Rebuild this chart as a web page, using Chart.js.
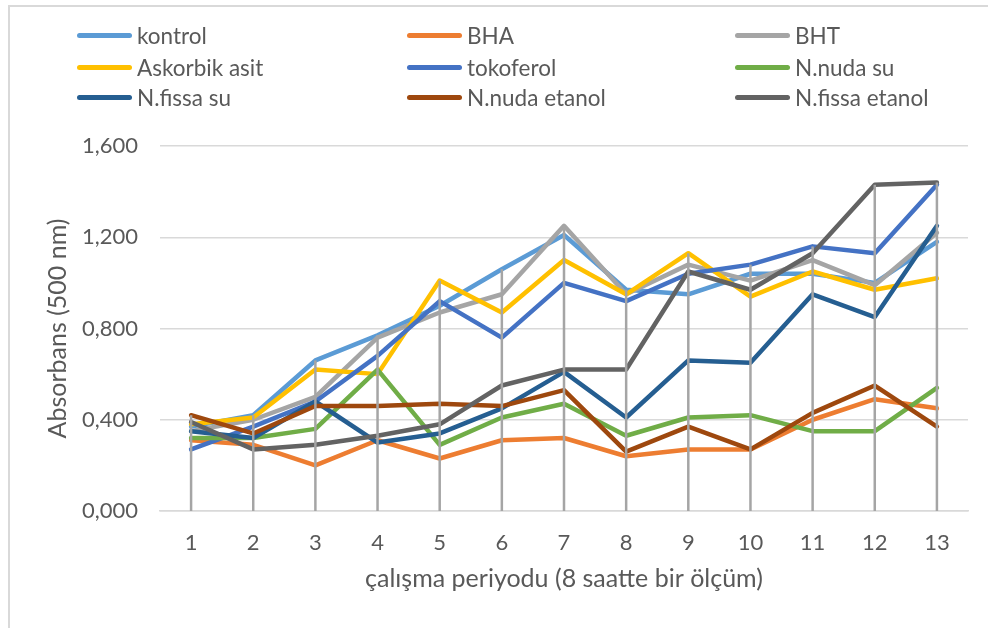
<!DOCTYPE html>
<html>
<head>
<meta charset="utf-8">
<script src="https://cdn.jsdelivr.net/npm/chart.js@4/dist/chart.umd.min.js"></script>
<style>
  html, body { margin: 0; padding: 0; background: #fff; }
  body { width: 988px; height: 628px; position: relative; overflow: hidden; font-family: Lato, sans-serif; }
  #frame { position: absolute; left: 8px; top: 5px; right: -10px; bottom: -10px; border-left: 2px solid #D9D9D9; border-top: 2px solid #D9D9D9; }
  #chart { position: absolute; left: 0; top: 0; }
  #legend { position: absolute; left: 0; top: 0; }
  .item { position: absolute; display: flex; align-items: center; height: 30px; color: #595959; font-size: 22.5px; white-space: nowrap; }
  .swatch { width: 55px; height: 5px; border-radius: 3px; margin-right: 5px; }
</style>
</head>
<body>
<div id="frame"></div>
<canvas id="chart" width="988" height="628"></canvas>
<div id="legend"></div>
<script>
const periods = ['1', '2', '3', '4', '5', '6', '7', '8', '9', '10', '11', '12', '13'];
const yTicks = [0, 0.4, 0.8, 1.2, 1.6];

const kontrol     = [0.37, 0.42, 0.66, 0.77, 0.90, 1.06, 1.21, 0.97, 0.95, 1.04, 1.04, 1.00, 1.18];
const bha         = [0.31, 0.29, 0.20, 0.31, 0.23, 0.31, 0.32, 0.24, 0.27, 0.27, 0.40, 0.49, 0.45];
const bht         = [0.35, 0.40, 0.50, 0.76, 0.87, 0.95, 1.25, 0.95, 1.08, 1.01, 1.10, 0.99, 1.22];
const askorbik    = [0.38, 0.41, 0.62, 0.60, 1.01, 0.87, 1.10, 0.95, 1.13, 0.94, 1.05, 0.97, 1.02];
const tokoferol   = [0.27, 0.37, 0.48, 0.68, 0.92, 0.76, 1.00, 0.92, 1.04, 1.08, 1.16, 1.13, 1.43];
const nudaSu      = [0.32, 0.32, 0.36, 0.62, 0.29, 0.41, 0.47, 0.33, 0.41, 0.42, 0.35, 0.35, 0.54];
const fissaSu     = [0.35, 0.32, 0.48, 0.30, 0.34, 0.45, 0.61, 0.41, 0.66, 0.65, 0.95, 0.85, 1.25];
const nudaEtanol  = [0.42, 0.34, 0.46, 0.46, 0.47, 0.46, 0.53, 0.26, 0.37, 0.27, 0.43, 0.55, 0.37];
const fissaEtanol = [0.39, 0.27, 0.29, 0.33, 0.38, 0.55, 0.62, 0.62, 1.05, 0.97, 1.13, 1.43, 1.44];

const seriesNames = ['kontrol', 'BHA', 'BHT', 'Askorbik asit', 'tokoferol', 'N.nuda su', 'N.fissa su', 'N.nuda etanol', 'N.fissa etanol'];
const seriesData = [kontrol, bha, bht, askorbik, tokoferol, nudaSu, fissaSu, nudaEtanol, fissaEtanol];
const seriesColors = ['#5B9BD5', '#ED7D31', '#A5A5A5', '#FFC000', '#4472C4', '#70AD47', '#255E91', '#9E480E', '#636363'];

const textColor = '#595959';
const gridColor = '#D9D9D9';

// vertical drop lines from the highest point of each period down to the axis
const dropLines = {
  id: 'dropLines',
  afterDatasetsDraw(chart) {
    const { ctx, scales: { x, y } } = chart;
    const sets = chart.data.datasets;
    ctx.save();
    ctx.strokeStyle = '#A5A5A5';
    ctx.lineWidth = 2.5;
    chart.data.labels.forEach((_, i) => {
      const top = Math.max(...sets.map(d => d.data[i]));
      const px = x.getPixelForValue(i);
      ctx.beginPath();
      ctx.moveTo(px, y.getPixelForValue(top));
      ctx.lineTo(px, y.getPixelForValue(0));
      ctx.stroke();
    });
    ctx.restore();
  }
};

const datasets = seriesNames.map((name, i) => ({
  label: name,
  data: seriesData[i],
  borderColor: seriesColors[i],
  backgroundColor: seriesColors[i],
  borderWidth: 4.5,
  borderJoinStyle: 'round',
  borderCapStyle: 'round',
  pointRadius: 0,
  tension: 0,
  order: seriesNames.length - i   // later series on top, like the original
}));

new Chart(document.getElementById('chart').getContext('2d'), {
  type: 'line',
  data: { labels: periods, datasets },
  options: {
    responsive: false,
    animation: false,
    layout: { padding: { left: 39, top: 146, right: 20, bottom: 30 } },
    plugins: {
      legend: { display: false },
      tooltip: { enabled: false }
    },
    scales: {
      x: {
        offset: true,
        grid: { display: false, drawTicks: false },
        border: { color: gridColor, width: 1.5 },
        ticks: { color: textColor, font: { family: 'Lato', size: 22 }, padding: 19, maxRotation: 0 },
        title: { display: true, text: 'çalışma periyodu (8 saatte bir ölçüm)', color: textColor, font: { family: 'Lato', size: 25 }, padding: { top: 4, bottom: 4 } },
        afterFit: (s) => { s.height = 87; }
      },
      y: {
        min: 0,
        max: 1.6,
        afterBuildTicks: (s) => { s.ticks = yTicks.map(v => ({ value: v })); },
        grid: { color: gridColor, lineWidth: 1.5, drawTicks: false },
        border: { display: false },
        ticks: { color: textColor, font: { family: 'Lato', size: 22 }, padding: 22, callback: (v) => Number(v).toFixed(3).replace('.', ',') },
        title: { display: true, text: 'Absorbans (500 nm)', color: textColor, font: { family: 'Lato', size: 25 }, padding: { top: 4, bottom: 4 } },
        afterFit: (s) => { s.width = 121; }
      }
    }
  },
  plugins: [dropLines]
});

// legend in three columns, as in the original
const legendCols = [77, 407, 735];
const legendRows = [35, 67, 97];
const legend = document.getElementById('legend');
seriesNames.forEach((name, i) => {
  const el = document.createElement('div');
  el.className = 'item';
  el.style.left = legendCols[i % 3] + 'px';
  el.style.top = (legendRows[Math.floor(i / 3)] - 15) + 'px';
  el.innerHTML = '<span class="swatch" style="background:' + seriesColors[i] + '"></span><span></span>';
  el.lastChild.textContent = name;
  legend.appendChild(el);
});
</script>
</body>
</html>
